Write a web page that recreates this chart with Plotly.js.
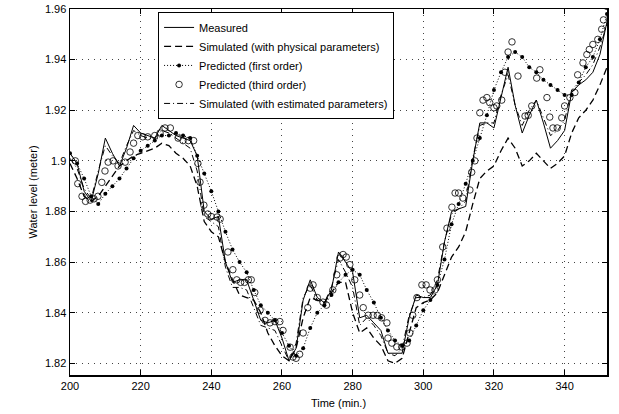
<!DOCTYPE html>
<html>
<head>
<meta charset="utf-8">
<script src="https://cdn.plot.ly/plotly-3.0.1.min.js"></script>
<style>html,body{margin:0;padding:0;background:#fff;}#chart{width:619px;height:414px;}</style>
</head>
<body>
<div id="chart"></div>
<script>
const time = [200,202,204,206,208,210,212,214,216,218,220,222,224,226,228,230,232,234,236,238,240,242,244,246,248,250,252,254,256,258,260,262,264,266,268,270,272,274,276,278,280,282,284,286,288,290,292,294,296,298,300,302,304,306,308,310,312,314,316,318,320,322,324,326,328,330,332,334,336,338,340,342,344,346,348,350,352];

const measured = [1.903,1.899,1.888,1.884,1.895,1.909,1.903,1.898,1.905,1.914,1.911,1.910,1.909,1.914,1.912,1.910,1.909,1.908,1.902,1.880,1.877,1.878,1.860,1.852,1.853,1.853,1.845,1.837,1.836,1.837,1.830,1.821,1.826,1.845,1.853,1.846,1.844,1.849,1.864,1.860,1.856,1.838,1.839,1.836,1.833,1.824,1.824,1.824,1.838,1.847,1.846,1.846,1.851,1.868,1.880,1.881,1.882,1.900,1.915,1.915,1.913,1.925,1.937,1.922,1.911,1.918,1.924,1.915,1.905,1.908,1.912,1.927,1.930,1.932,1.935,1.942,1.955];

const simPhysical = [1.899,1.893,1.886,1.884,1.886,1.890,1.894,1.898,1.900,1.902,1.903,1.904,1.905,1.907,1.906,1.903,1.901,1.898,1.890,1.876,1.872,1.870,1.860,1.853,1.847,1.846,1.845,1.840,1.832,1.827,1.823,1.821,1.826,1.838,1.846,1.845,1.844,1.848,1.852,1.852,1.840,1.832,1.834,1.830,1.827,1.821,1.820,1.822,1.832,1.842,1.844,1.845,1.848,1.855,1.862,1.866,1.872,1.883,1.893,1.896,1.898,1.904,1.909,1.905,1.898,1.900,1.903,1.900,1.897,1.899,1.902,1.911,1.917,1.920,1.924,1.930,1.937];

const predFirst = [1.903,1.899,1.893,1.886,1.883,1.887,1.890,1.893,1.897,1.901,1.904,1.906,1.908,1.910,1.910,1.911,1.910,1.909,1.902,1.895,1.888,1.880,1.872,1.865,1.860,1.856,1.849,1.843,1.840,1.837,1.832,1.827,1.823,1.826,1.834,1.840,1.843,1.847,1.852,1.855,1.857,1.855,1.849,1.844,1.838,1.833,1.829,1.827,1.829,1.835,1.841,1.845,1.851,1.861,1.875,1.883,1.891,1.900,1.909,1.918,1.928,1.935,1.941,1.943,1.941,1.937,1.935,1.932,1.930,1.928,1.926,1.926,1.931,1.937,1.941,1.948,1.958];

const thirdTime = [201.5,202.2,203.4,204.4,205.7,206.8,207.9,209.0,209.9,210.8,212.2,213.6,215.6,217.0,218.0,219.2,220.6,222.0,224.0,225.5,226.9,228.4,230.6,232.0,233.5,235.0,236.2,236.8,237.9,239.0,240.0,241.6,242.5,244.7,246.1,247.2,248.3,249.4,250.5,251.3,252.3,253.8,255.2,256.6,258.0,259.4,260.3,262.3,263.1,264.0,265.0,266.0,267.3,268.0,268.8,270.0,271.6,272.6,274.4,275.5,276.4,277.3,278.2,279.2,280.6,282.0,283.0,284.4,285.8,287.0,288.2,289.7,290.0,291.1,292.5,293.9,295.4,296.2,297.0,298.2,299.6,300.8,301.9,303.3,304.0,305.5,306.7,308.1,309.0,310.0,311.2,313.2,313.7,314.6,315.2,316.0,316.9,318.0,318.8,320.0,320.8,322.2,323.1,324.0,325.1,326.8,328.8,329.7,330.7,332.1,333.0,335.0,335.8,336.7,337.9,339.2,340.0,341.5,342.9,343.7,345.2,346.3,347.0,348.0,349.4,350.5,351.0,352.0];

const predThird = [1.900,1.891,1.886,1.884,1.8845,1.885,1.886,1.8915,1.896,1.8995,1.900,1.898,1.8995,1.9035,1.907,1.910,1.9095,1.9095,1.910,1.911,1.913,1.913,1.909,1.908,1.908,1.908,1.899,1.8916,1.8825,1.879,1.878,1.8778,1.877,1.864,1.857,1.853,1.852,1.852,1.853,1.853,1.848,1.841,1.837,1.836,1.8365,1.8365,1.833,1.8264,1.8225,1.822,1.8236,1.832,1.842,1.8497,1.851,1.846,1.8442,1.843,1.849,1.855,1.8616,1.863,1.862,1.859,1.853,1.847,1.842,1.839,1.839,1.839,1.838,1.836,1.830,1.828,1.8265,1.8265,1.828,1.832,1.839,1.846,1.851,1.851,1.849,1.849,1.853,1.866,1.8734,1.8817,1.8873,1.8873,1.8853,1.8885,1.8955,1.900,1.909,1.919,1.924,1.925,1.923,1.921,1.9217,1.924,1.935,1.943,1.947,1.9335,1.9177,1.918,1.9217,1.9327,1.936,1.925,1.9173,1.913,1.913,1.917,1.9217,1.925,1.927,1.934,1.9387,1.942,1.944,1.946,1.948,1.952,1.9557,1.961];

const simEstimated = [1.901,1.897,1.889,1.885,1.896,1.906,1.902,1.899,1.906,1.912,1.910,1.909,1.909,1.912,1.911,1.909,1.907,1.905,1.896,1.878,1.876,1.874,1.858,1.850,1.850,1.849,1.842,1.835,1.834,1.833,1.827,1.821,1.828,1.846,1.851,1.845,1.844,1.850,1.861,1.856,1.850,1.835,1.838,1.835,1.831,1.824,1.823,1.826,1.839,1.846,1.846,1.847,1.853,1.868,1.879,1.881,1.884,1.901,1.914,1.915,1.915,1.926,1.934,1.922,1.914,1.920,1.924,1.917,1.910,1.912,1.916,1.928,1.931,1.934,1.938,1.945,1.954];

const xTicks = [200,220,240,260,280,300,320,340];
const yTicks = [1.82,1.84,1.86,1.88,1.90,1.92,1.94,1.96];
const yTickText = ['1.82','1.84','1.86','1.88','1.9','1.92','1.94','1.96'];

const traces = [
  {x: time, y: measured, name: 'Measured', mode: 'lines',
   line: {color: '#000', width: 1}},
  {x: time, y: simPhysical, name: 'Simulated (with physical parameters)', mode: 'lines',
   line: {color: '#000', width: 1.3, dash: '7px,4px'}},
  {x: time, y: predFirst, name: 'Predicted (first order)', mode: 'lines+markers',
   line: {color: '#000', width: 1, dash: '1px,2px'}, marker: {color: '#000', size: 4, symbol: 'circle'}},
  {x: thirdTime, y: predThird, name: 'Predicted (third order)', mode: 'markers',
   marker: {color: '#000', size: 6.5, symbol: 'circle-open', line: {color: '#000', width: 0.8}}},
  {x: time, y: simEstimated, name: 'Simulated (with estimated parameters)', mode: 'lines',
   line: {color: '#000', width: 1, dash: '6px,3px,1px,3px'}}
];

const fontFam = 'Liberation Sans, Arial, sans-serif';
const layout = {
  width: 619, height: 414,
  margin: {l: 70, r: 12, t: 9, b: 39},
  paper_bgcolor: '#fff', plot_bgcolor: '#fff',
  font: {family: fontFam, size: 11, color: '#000'},
  showlegend: true,
  legend: {x: 0.164, y: 0.992, xanchor: 'left', yanchor: 'top',
    bgcolor: '#fff', bordercolor: '#000', borderwidth: 1,
    font: {family: fontFam, size: 11, color: '#000'}, itemwidth: 30, tracegroupgap: 0},
  xaxis: {range: [200, 352], tickvals: xTicks, ticktext: xTicks.map(String),
    ticks: 'inside', ticklen: 5, tickcolor: '#000', showline: true, linecolor: '#000', linewidth: 1.5,
    mirror: 'ticks', showgrid: true, gridcolor: '#444', griddash: '1px,5px', gridwidth: 1,
    zeroline: false, tickfont: {size: 11},
    title: {text: 'Time (min.)', font: {size: 11}, standoff: 8}},
  yaxis: {range: [1.8154, 1.96], tickvals: yTicks, ticktext: yTickText,
    ticks: 'inside', ticklen: 5, tickcolor: '#000', showline: true, linecolor: '#000', linewidth: 1.5,
    mirror: 'ticks', showgrid: true, gridcolor: '#444', griddash: '1px,5px', gridwidth: 1,
    zeroline: false, tickfont: {size: 11},
    title: {text: 'Water level (meter)', font: {size: 11}, standoff: 5}}
};

Plotly.newPlot('chart', traces, layout, {displayModeBar: false, staticPlot: true});
</script>
</body>
</html>
